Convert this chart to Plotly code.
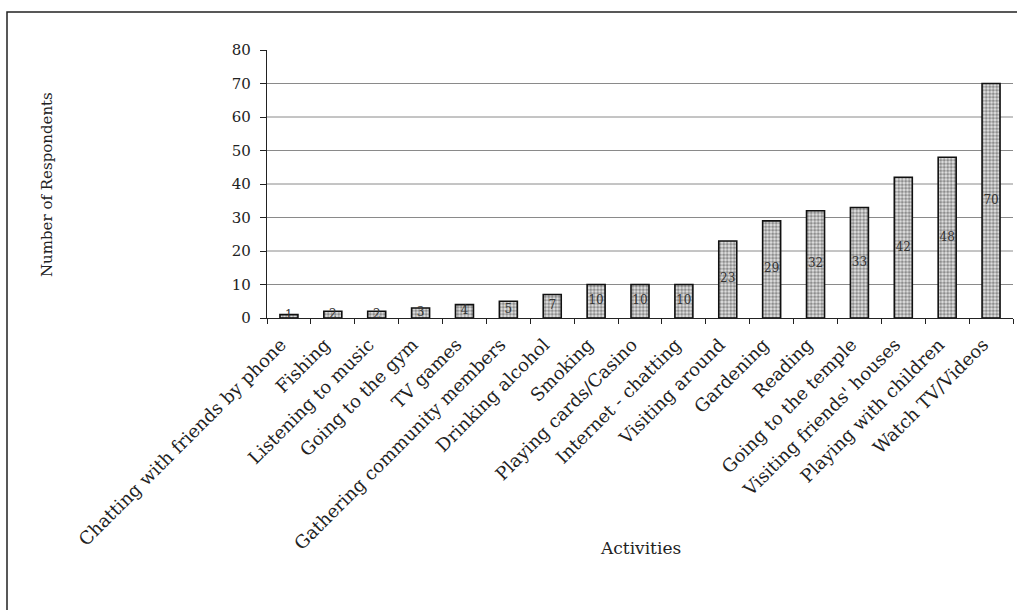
import plotly.graph_objects as go

activities = [
    "Chatting with friends by phone", "Fishing", "Listening to music",
    "Going to the gym", "TV games", "Gathering community members",
    "Drinking alcohol", "Smoking", "Playing cards/Casino",
    "Internet - chatting", "Visiting around", "Gardening", "Reading",
    "Going to the temple", "Visiting friends' houses",
    "Playing with children", "Watch TV/Videos",
]
respondents = [1, 2, 2, 3, 4, 5, 7, 10, 10, 10, 23, 29, 32, 33, 42, 48, 70]
y_ticks = [0, 10, 20, 30, 40, 50, 60, 70, 80]
grid_values = [10, 20, 30, 40, 50, 60, 70]

FONT = "DejaVu Serif"

fig = go.Figure()
fig.add_trace(go.Bar(
    x=activities, y=respondents,
    marker=dict(
        color="#d0d0d0",
        line=dict(color="#111111", width=1.6),
        pattern=dict(shape=".", fgcolor="#333333", bgcolor="#e6e6e6",
                     size=3.5, solidity=0.6),
    ),
    width=0.41,
    hoverinfo="skip",
))
# value labels centred in each bar
fig.add_trace(go.Scatter(
    x=activities, y=[v / 2 for v in respondents],
    text=[str(v) for v in respondents], mode="text",
    textfont=dict(family=FONT, size=12, color="#333333"),
    hoverinfo="skip",
))

for v in grid_values:
    fig.add_shape(type="line", xref="paper", x0=0, x1=1, yref="y", y0=v, y1=v,
                  line=dict(color="#8a8a8a", width=1), layer="below")

# outer frame
fig.add_shape(type="rect", xref="paper", yref="paper",
              x0=-260 / 746, x1=1.2, y0=-1.5, y1=1 + 38 / 268,
              line=dict(color="#222222", width=1.5), fillcolor="rgba(0,0,0,0)")

fig.add_annotation(text="Number of Respondents", xref="paper", yref="paper",
                   x=-220 / 746, y=(318 - 185) / 268, textangle=-90,
                   xanchor="center", yanchor="middle",
                   showarrow=False, font=dict(family=FONT, size=15, color="#222"))
fig.add_annotation(text="Activities", xref="paper", yref="paper",
                   x=(640 - 267) / 746, y=-(548 - 318) / 268,
                   xanchor="center", yanchor="middle",
                   showarrow=False, font=dict(family=FONT, size=17, color="#222"))

fig.update_layout(
    width=1017, height=610,
    margin=dict(l=267, r=4, t=50, b=292),
    paper_bgcolor="white", plot_bgcolor="white",
    showlegend=False,
    xaxis=dict(
        type="category", range=[-0.5, len(activities) - 0.5],
        tickangle=-45, tickson="boundaries",
        ticks="outside", ticklen=5, tickcolor="#222",
        ticklabelstandoff=8, ticklabelshift=-8,
        showline=True, linecolor="#222", linewidth=1.2,
        showgrid=False,
        tickfont=dict(family=FONT, size=18, color="#222"),
    ),
    yaxis=dict(
        range=[0, 80], tickvals=y_ticks, ticks="outside", ticklen=6,
        tickcolor="#222", showline=True, linecolor="#222", linewidth=1.2,
        ticklabelstandoff=6,
        showgrid=False, zeroline=False,
        tickfont=dict(family=FONT, size=15, color="#222"),
    ),
)

fig.write_html("out.html")
